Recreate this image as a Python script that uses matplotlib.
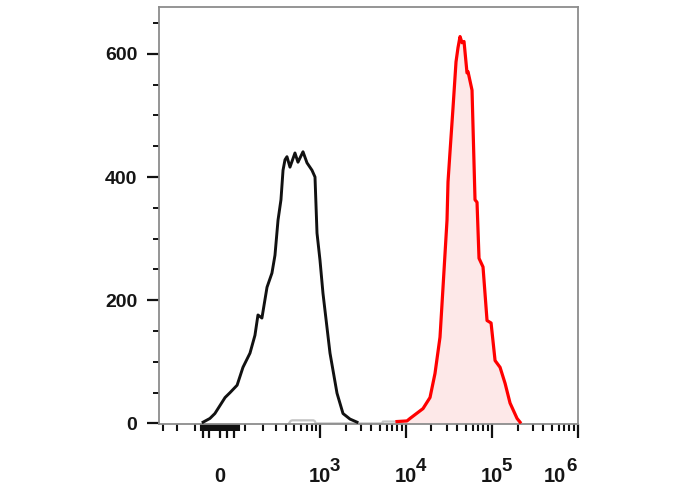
import numpy as np
import matplotlib
matplotlib.use("Agg")
import matplotlib.pyplot as plt
from matplotlib.ticker import FixedLocator, MultipleLocator
from matplotlib.transforms import ScaledTranslation

# ---------------- data ----------------
black_x = [-65, -38, -19, 0, 19, 38, 66, 91, 124, 150, 167, 191, 225, 262, 287,
           314, 342, 363, 384, 406, 442, 508, 552, 634, 707, 810, 879, 928, 1006,
           1091, 1318, 1591, 1869, 2255, 2721]
black_y = [2, 8, 16, 29, 42, 50, 62, 91, 114, 143, 176, 171, 221, 244, 273,
           330, 363, 411, 428, 433, 416, 439, 424, 441, 423, 411, 400, 309, 265,
           211, 114, 49, 16, 7, 2]

red_x = [7946, 10383, 11250, 15935, 19223, 21962, 25117, 27230, 30302, 31122,
         32840, 35570, 38560, 40670, 42940, 45290, 47780, 51760, 53170, 59190,
         64120, 67670, 71380, 79440, 88470, 98550, 109700, 125400, 143400,
         163800, 197600, 214000]
red_y = [3, 4, 8, 24, 42, 81, 140, 221, 330, 392,
         441, 512, 587, 610, 628, 618, 620, 569, 571, 541,
         363, 359, 268, 254, 167, 163, 102, 91, 65,
         33, 8, 2]

gray_x = [430, 450, 470, 840, 870, 900, 5300, 5450, 5600, 7800, 8000]
gray_y = [0, 4, 5, 5, 4, 0, 0, 3, 3, 3, 0]

y_major = [0, 200, 400, 600]
x_major = [0, 1e3, 1e4, 1e5, 1e6]
x_major_base = ["0", "10", "10", "10", "10"]
x_major_exp = ["", "3", "4", "5", "6"]
x_zero_long = [-65, -40, 25, 55]
x_minor_lin = [-300, -200, -100] + list(range(-75, 80, 5)) + \
              [100, 200, 300, 400, 500, 600, 700, 800, 900]
x_minor_mult = [2, 3, 4, 5, 6, 7, 8, 9]
x_minor_decades = [1e3, 1e4, 1e5]

# ---------------- figure ----------------
C = 139.0
LN10 = np.log(10)

def fwd(x):
    return np.arcsinh(np.asarray(x, dtype=float) / C) / LN10

def inv(y):
    return C * np.sinh(np.asarray(y, dtype=float) * LN10)

plt.rcParams['font.family'] = ['Liberation Sans', 'DejaVu Sans']

fig = plt.figure(figsize=(6.88, 4.90), dpi=100)
ax = fig.add_axes([159/688, 1 - 424/490, (578-159)/688, (424-7)/490])
ax.set_xscale('function', functions=(fwd, inv))

ax.fill_between(red_x, red_y, 0, color='#fde8e8', lw=0, zorder=1)
ax.plot(gray_x, gray_y, color='#c4c4c4', lw=1.6, zorder=2)
ax.plot(black_x, black_y, color='#111111', lw=2.1, zorder=3, solid_joinstyle='round')
ax.plot(red_x, red_y, color='#ff0000', lw=2.3, zorder=4, solid_joinstyle='round')

ax.set_xlim(-342, 1.01e6)
ax.set_ylim(-1, 676)

for s in ax.spines.values():
    s.set_color('#8c8c8c')
    s.set_linewidth(1.3)

# y ticks
ax.yaxis.set_major_locator(FixedLocator(y_major))
ax.yaxis.set_minor_locator(MultipleLocator(50))
ax.tick_params(axis='y', which='major', direction='out', length=8.5, width=1.6,
               color='#111111', labelsize=14, pad=7, labelcolor='#151515')
ax.tick_params(axis='y', which='minor', direction='out', length=4.3, width=1.4,
               color='#111111')
for t in ax.get_yticklabels():
    t.set_fontweight('bold')

# x ticks
major_pos = sorted(list(x_major) + list(x_zero_long))
major_lab = []
for p in major_pos:
    major_lab.append(x_major_base[x_major.index(p)] if p in x_major else "")
minors = list(x_minor_lin) + [m * d for d in x_minor_decades for m in x_minor_mult]
ax.xaxis.set_major_locator(FixedLocator(major_pos))
ax.xaxis.set_minor_locator(FixedLocator(minors))
ax.set_xticklabels(major_lab, fontweight='bold')
ax.tick_params(axis='x', which='major', direction='out', length=10, width=1.6,
               color='#111111', labelsize=14.5, pad=21, labelcolor='#151515')
ax.tick_params(axis='x', which='minor', direction='out', length=5, width=1.5,
               color='#111111')

labels = ax.get_xticklabels()
last = labels[major_pos.index(x_major[-1])]
last.set_transform(last.get_transform() +
                   ScaledTranslation(-23/100, 0, fig.dpi_scale_trans))

for val, e in zip(x_major, x_major_exp):
    if not e:
        continue
    dx = -8.3 if val == x_major[-1] else 7.0
    ax.annotate(e, xy=(val, 0), xycoords=('data', 'axes fraction'),
                xytext=(dx, -33.5), textcoords='offset points',
                ha='left', va='baseline', fontsize=13.5, fontweight='bold',
                color='#151515')

fig.savefig('out.png', dpi=100)
